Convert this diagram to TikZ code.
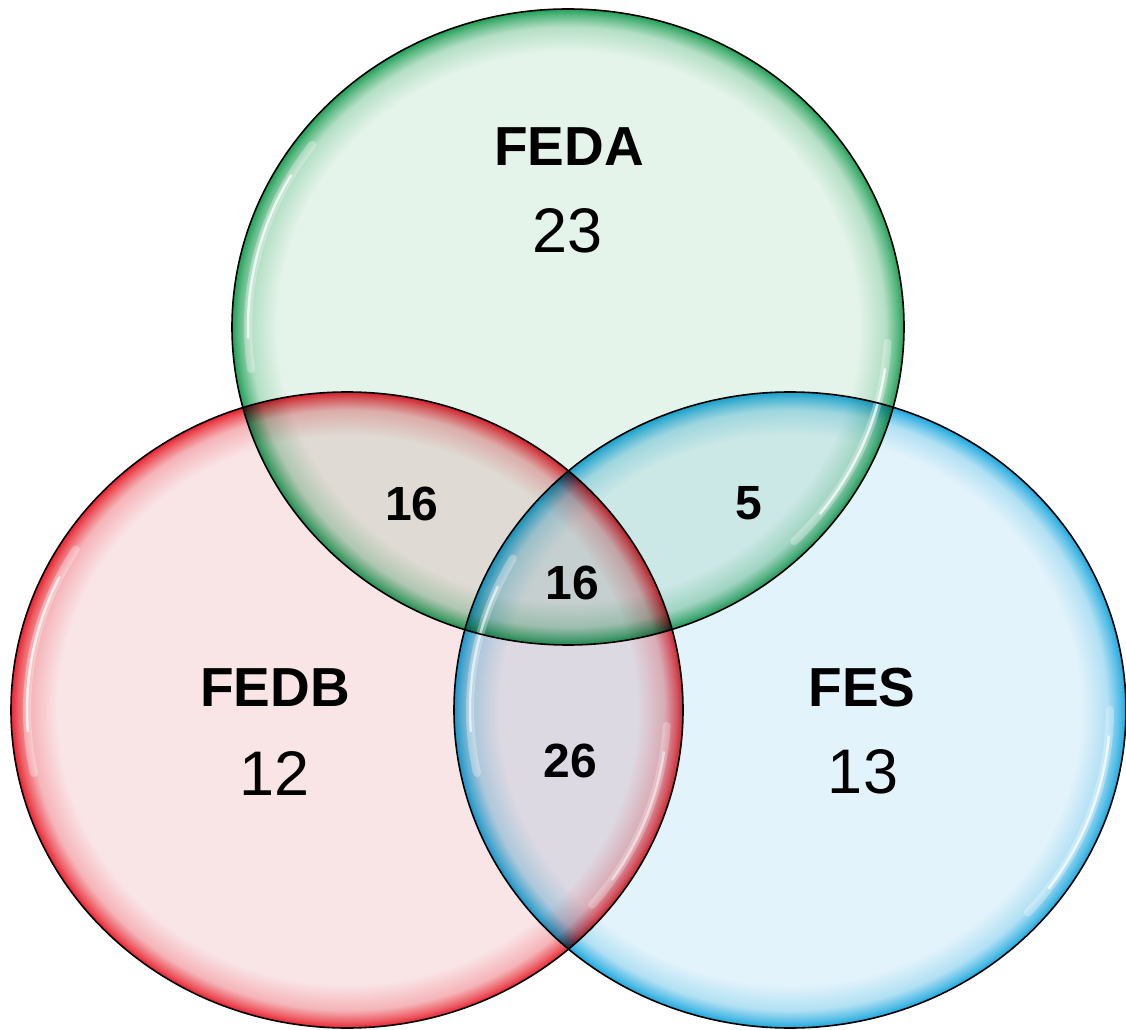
\documentclass[tikz,border=0pt]{standalone}
\usepackage{fontspec}
\setmainfont{Liberation Sans}
\usepackage{xcolor}

\definecolor{greenrim}{HTML}{22A058}
\definecolor{greenin}{HTML}{E5F4EA}
\definecolor{redrim}{HTML}{E8242F}
\definecolor{redin}{HTML}{F9E4E6}
\definecolor{bluerim}{HTML}{1CA8DE}
\definecolor{bluein}{HTML}{E3F3FB}

\pgfdeclareradialshading{greenglass}{\pgfpoint{0bp}{0bp}}{color(0bp)=(greenin); color(21.6bp)=(greenin); color(23.6bp)=(greenrim!25!greenin); color(24.5bp)=(greenrim!70!greenin); color(25bp)=(greenrim); color(50bp)=(greenrim)}
\pgfdeclareradialshading{redglass}{\pgfpoint{0bp}{0bp}}{color(0bp)=(redin); color(21.6bp)=(redin); color(23.6bp)=(redrim!25!redin); color(24.5bp)=(redrim!70!redin); color(25bp)=(redrim); color(50bp)=(redrim)}
\pgfdeclareradialshading{blueglass}{\pgfpoint{0bp}{0bp}}{color(0bp)=(bluein); color(21.6bp)=(bluein); color(23.6bp)=(bluerim!25!bluein); color(24.5bp)=(bluerim!70!bluein); color(25bp)=(bluerim); color(50bp)=(bluerim)}

\begin{document}
\begin{tikzpicture}[x=1pt, y=1pt,
    setlabel/.style={font=\fontsize{55}{60}\selectfont\bfseries, inner sep=0pt},
    countnum/.style={font=\fontsize{63}{68}\selectfont, inner sep=0pt},
    overlapnum/.style={font=\fontsize{48}{52}\selectfont\bfseries, inner sep=0pt},
    rimline/.style={draw=black, line width=1.6pt},
    glint/.style={draw=white, line cap=round}]
        % Page
        \fill[white] (0,0) rectangle (1126,1029);
        \useasboundingbox (0,0) rectangle (1126,1029);

        % Centres of the three sets
        \coordinate (FA) at (568, 702);  % FEDA, top
        \coordinate (FB) at (347, 319);  % FEDB, bottom-left
        \coordinate (FS) at (790, 319);  % FES, bottom-right

        % Glassy fills, mixed where they overlap
        \begin{scope}[blend mode=multiply]
            \shade[shading=greenglass] (FA) ellipse [x radius=336, y radius=318];
            \shade[shading=redglass] (FB) ellipse [x radius=336, y radius=318];
            \shade[shading=blueglass] (FS) ellipse [x radius=336, y radius=318];
        \end{scope}

        % White glints inside the rims
        \draw[glint, line width=8pt, opacity=0.3] ([shift={(143:320 and 303)}]FA) arc[start angle=143, end angle=188, x radius=320, y radius=303];
        \draw[glint, line width=2.5pt, opacity=0.75] ([shift={(150:320 and 303)}]FA) arc[start angle=150, end angle=182, x radius=320, y radius=303];
        \draw[glint, line width=8pt, opacity=0.3] ([shift={(-3:320 and 303)}]FA) arc[start angle=-3, end angle=-45, x radius=320, y radius=303];
        \draw[glint, line width=2.5pt, opacity=0.75] ([shift={(-8:320 and 303)}]FA) arc[start angle=-8, end angle=-38, x radius=320, y radius=303];

        \draw[glint, line width=8pt, opacity=0.3] ([shift={(148:320 and 303)}]FB) arc[start angle=148, end angle=192, x radius=320, y radius=303];
        \draw[glint, line width=2.5pt, opacity=0.75] ([shift={(154:320 and 303)}]FB) arc[start angle=154, end angle=184, x radius=320, y radius=303];
        \draw[glint, line width=8pt, opacity=0.25] ([shift={(-3:320 and 303)}]FB) arc[start angle=-3, end angle=-40, x radius=320, y radius=303];
        \draw[glint, line width=2.5pt, opacity=0.5] ([shift={(-8:320 and 303)}]FB) arc[start angle=-8, end angle=-34, x radius=320, y radius=303];

        \draw[glint, line width=8pt, opacity=0.3] ([shift={(150:320 and 303)}]FS) arc[start angle=150, end angle=192, x radius=320, y radius=303];
        \draw[glint, line width=2.5pt, opacity=0.6] ([shift={(156:320 and 303)}]FS) arc[start angle=156, end angle=184, x radius=320, y radius=303];
        \draw[glint, line width=8pt, opacity=0.3] ([shift={(0:320 and 303)}]FS) arc[start angle=0, end angle=-42, x radius=320, y radius=303];
        \draw[glint, line width=2.5pt, opacity=0.75] ([shift={(-5:320 and 303)}]FS) arc[start angle=-5, end angle=-36, x radius=320, y radius=303];

        % Black outlines
        \draw[rimline] (FA) ellipse [x radius=336, y radius=318];
        \draw[rimline] (FB) ellipse [x radius=336, y radius=318];
        \draw[rimline] (FS) ellipse [x radius=336, y radius=318];

        % Set names and counts
        \node[setlabel] (nameA) at (569, 882) {FEDA};
        \node[countnum] (numA) at (568, 798) {23};
        \node[setlabel] (nameB) at (275, 341) {FEDB};
        \node[countnum] (numB) at (275, 255) {12};
        \node[setlabel] (nameS) at (862, 341) {FES};
        \node[countnum] (numS) at (863, 257) {13};

        % Overlap counts
        \node[overlapnum] (nAB) at (412, 525) {16};
        \node[overlapnum] (nAS) at (749, 526) {5};
        \node[overlapnum] (nABS) at (572, 446) {16};
        \node[overlapnum] (nBS) at (570, 268) {26};
\end{tikzpicture}
\end{document}
